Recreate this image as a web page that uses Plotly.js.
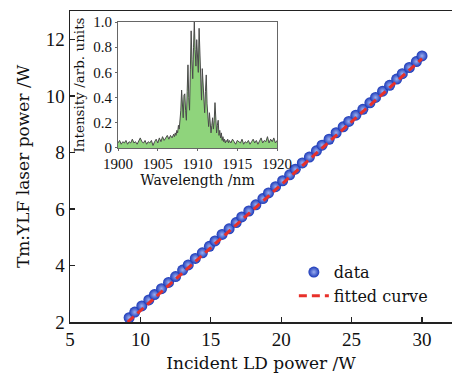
<!DOCTYPE html>
<html>
<head>
<meta charset="utf-8">
<script src="https://cdn.plot.ly/plotly-3.0.1.min.js"></script>
<style>html,body{margin:0;padding:0;background:#fff;}#chart{width:452px;height:380px;}</style>
</head>
<body>
<div id="chart"></div>
<script>
// Main data: incident LD power (W) vs Tm:YLF laser power (W)
const pumpPower = [9.2,9.6,10.1,10.6,11.0,11.5,12.0,12.5,13.0,13.4,13.9,14.4,14.9,15.3,15.8,16.3,16.8,17.2,17.7,18.2,18.7,19.1,19.6,20.1,20.6,21.0,21.5,22.0,22.5,22.9,23.4,23.9,24.4,24.8,25.3,25.8,26.3,26.7,27.2,27.7,28.2,28.6,29.1,29.6,30.0];
const laserPower = [2.15,2.35,2.57,2.78,2.97,3.18,3.40,3.61,3.84,4.02,4.25,4.45,4.68,4.87,5.10,5.30,5.52,5.72,5.93,6.15,6.37,6.57,6.79,7.00,7.21,7.41,7.63,7.84,8.06,8.26,8.47,8.70,8.91,9.10,9.32,9.53,9.76,9.95,10.17,10.38,10.60,10.79,11.01,11.22,11.42];
const fitX = [9.1, 30.0];
const fitY = [2.0, 11.32];

// Inset spectrum
const wavelength = [1900.0,1900.2,1900.4,1900.6,1900.8,1901.0,1901.2,1901.4,1901.6,1901.8,1902.0,1902.2,1902.4,1902.6,1902.8,1903.0,1903.2,1903.4,1903.6,1903.8,1904.0,1904.2,1904.4,1904.6,1904.8,1905.0,1905.2,1905.4,1905.6,1905.8,1906.0,1906.2,1906.4,1906.6,1906.8,
1907.0,1907.1,1907.2,1907.3,1907.4,1907.5,1907.6,1907.7,1907.8,1907.9,1908.0,1908.1,1908.2,1908.3,1908.4,1908.5,1908.6,1908.7,1908.8,1908.9,1909.0,1909.1,1909.2,1909.3,1909.4,1909.5,1909.6,1909.7,1909.8,1909.9,1910.0,1910.1,1910.2,1910.3,1910.4,1910.5,1910.6,1910.7,1910.8,1910.9,1911.0,1911.1,1911.2,1911.3,1911.4,1911.5,1911.6,1911.7,1911.8,1911.9,1912.0,1912.1,1912.2,1912.3,1912.4,1912.5,1912.6,1912.7,1912.8,1912.9,1913.0,1913.1,1913.2,1913.3,1913.4,1913.5,1913.6,1913.7,1913.8,1913.9,
1914.0,1914.2,1914.4,1914.6,1914.8,1915.0,1915.2,1915.4,1915.6,1915.8,1916.0,1916.2,1916.4,1916.6,1916.8,1917.0,1917.2,1917.4,1917.6,1917.8,1918.0,1918.2,1918.4,1918.6,1918.8,1919.0,1919.2,1919.4,1919.6,1919.8,1920.0];
const intensity = [0.04,0.06,0.03,0.05,0.04,0.06,0.03,0.05,0.04,0.07,0.04,0.05,0.03,0.06,0.08,0.05,0.04,0.06,0.03,0.05,0.04,0.06,0.02,0.05,0.07,0.04,0.08,0.05,0.09,0.06,0.08,0.10,0.07,0.10,0.08,
0.11,0.09,0.12,0.10,0.14,0.12,0.18,0.15,0.22,0.30,0.46,0.28,0.24,0.42,0.43,0.30,0.22,0.45,0.66,0.40,0.30,0.62,0.93,0.70,0.55,0.80,1.00,0.78,0.65,0.86,0.72,0.60,0.95,0.70,0.45,0.38,0.63,0.50,0.32,0.28,0.45,0.58,0.35,0.22,0.17,0.28,0.20,0.12,0.18,0.24,0.15,0.22,0.36,0.25,0.12,0.18,0.22,0.10,0.14,0.08,0.12,0.06,0.09,0.05,0.07,0.04,0.06,0.05,0.07,0.04,
0.06,0.04,0.07,0.05,0.03,0.06,0.05,0.04,0.07,0.03,0.05,0.04,0.06,0.03,0.05,0.07,0.04,0.06,0.03,0.05,0.08,0.04,0.06,0.05,0.09,0.04,0.07,0.05,0.08,0.04,0.06];

const xTicks = [5,10,15,20,25,30];
const yTicks = [2,4,6,8,10,12];
const insetXTicks = [1900,1905,1910,1915,1920];
const insetYTicks = [0,0.2,0.4,0.6,0.8,1.0];
const insetYLabels = ['0','0.2','0.4','0.6','0.8','1.0'];

const numFont = 'Liberation Serif, Times New Roman, serif';
const txtFont = 'DejaVu Serif, serif';

const traces = [
  {
    x: pumpPower, y: laserPower, type: 'scatter', mode: 'markers', name: 'data',
    marker: {color: '#1a38b8', size: 11, line: {width: 0}, gradient: {type: 'radial', color: '#9aaef0'}},
    xaxis: 'x', yaxis: 'y'
  },
  {
    x: fitX, y: fitY, type: 'scatter', mode: 'lines', name: 'fitted curve',
    line: {color: '#e8302a', width: 3, dash: '8px,5px'}, xaxis: 'x', yaxis: 'y'
  },
  {
    x: wavelength, y: intensity, type: 'scatter', mode: 'lines', name: 'spectrum',
    fill: 'tozeroy', fillcolor: '#8fd47c', line: {color: '#4a4a4a', width: 1},
    xaxis: 'x2', yaxis: 'y2', showlegend: false
  }
];

const layout = {
  width: 452, height: 380,
  margin: {l: 70, r: 0, t: 11, b: 58},
  paper_bgcolor: '#fff', plot_bgcolor: 'rgba(0,0,0,0)',
  font: {family: txtFont, size: 17, color: '#111'},
  showlegend: true,
  legend: {
    x: 0.586, y: 0.215, xanchor: 'left', yanchor: 'top',
    bgcolor: 'rgba(0,0,0,0)', font: {family: txtFont, size: 16, color: '#111'},
    traceorder: 'normal', tracegroupgap: 0, itemwidth: 30
  },
  xaxis: {
    range: [5, 32.13], tickvals: xTicks, ticktext: xTicks.map(String),
    ticks: 'inside', ticklen: 5, tickwidth: 1.2, tickcolor: '#222',
    showline: true, linecolor: '#222', linewidth: 1.5, mirror: true,
    showgrid: false, zeroline: false,
    tickfont: {family: numFont, size: 19, color: '#111'},
    title: {text: 'Incident LD power /W', font: {family: txtFont, size: 17, color: '#111'}, standoff: 8}
  },
  yaxis: {
    range: [2, 13.01], tickvals: yTicks, ticktext: yTicks.map(String),
    ticks: 'inside', ticklen: 5, tickwidth: 1.2, tickcolor: '#222',
    showline: true, linecolor: '#222', linewidth: 1.5, mirror: false,
    showgrid: false, zeroline: false,
    tickfont: {family: numFont, size: 19, color: '#111'},
    title: {text: 'Tm:YLF laser power /W', font: {family: txtFont, size: 17, color: '#111'}, standoff: 12}
  },
  xaxis2: {
    domain: [0.1257, 0.5419], anchor: 'y2', range: [1900, 1920],
    tickvals: insetXTicks, ticktext: insetXTicks.map(String),
    ticks: 'outside', ticklen: 2, tickcolor: '#666',
    showline: true, linecolor: '#666', linewidth: 1, mirror: true,
    showgrid: false, zeroline: false,
    tickfont: {family: numFont, size: 15, color: '#111'},
    title: {text: 'Wavelength /nm', font: {family: txtFont, size: 14, color: '#111'}, standoff: 4}
  },
  yaxis2: {
    domain: [0.5595, 0.9646], anchor: 'x2', range: [0, 1.0],
    tickvals: insetYTicks, ticktext: insetYLabels,
    ticks: 'outside', ticklen: 2, tickcolor: '#666',
    showline: true, linecolor: '#666', linewidth: 1, mirror: true,
    showgrid: false, zeroline: false,
    tickfont: {family: numFont, size: 15, color: '#111'},
    title: {text: 'Intensity /arb. units', font: {family: txtFont, size: 13.5, color: '#111'}, standoff: 5}
  }
};

Plotly.newPlot('chart', traces, layout, {staticPlot: true, displayModeBar: false});
</script>
</body>
</html>
